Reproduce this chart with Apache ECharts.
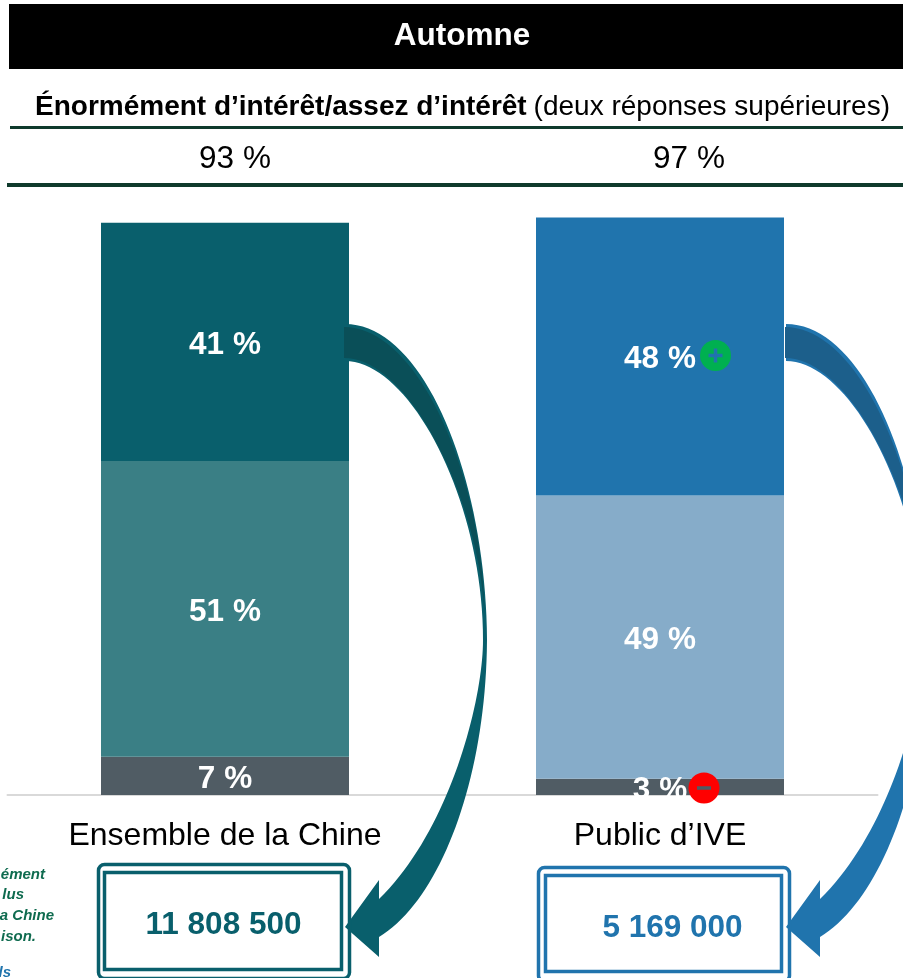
<!DOCTYPE html>
<html>
<head>
<meta charset="utf-8">
<title>Automne</title>
<script src="https://cdn.jsdelivr.net/npm/echarts@6/dist/echarts.min.js"></script>
<style>
  html, body { margin: 0; padding: 0; background: #fff; }
  #main { width: 903px; height: 978px; }
</style>
</head>
<body>
<div id="main"></div>
<script>
const categories = ['Ensemble de la Chine', 'Public d’IVE'];
const lowValues = [6.6, 2.8];
const midValues = [51.2, 49];
const highValues = [41.2, 48.1];
const topTwo = ['93 %', '97 %'];
const totals = ['11 808 500', '5 169 000'];

const lowColors = ['#505c64', '#505c64'];
const midColors = ['#3a7f85', '#86acc9'];
const highColors = ['#095f6c', '#2074ad'];

const font = '"Liberation Sans", Arial, sans-serif';

function seriesOf(name, values, colors) {
  return {
    name: name,
    type: 'bar',
    stack: 'total',
    barWidth: 248,
    data: values.map((v, i) => ({ value: v, itemStyle: { color: colors[i] } })),
    label: {
      show: true,
      position: 'inside',
      offset: [0, 3],
      color: '#fff',
      fontFamily: font,
      fontWeight: 'bold',
      fontSize: 31.5,
      formatter: p => Math.round(p.value) + ' %'
    }
  };
}

function text(x, y, str, size, color, extra) {
  return {
    type: 'text', z: 10, silent: true, x: x, y: y,
    style: Object.assign({
      text: str, fontFamily: font, fontSize: size, fill: color,
      align: 'center', verticalAlign: 'middle'
    }, extra || {})
  };
}

function rect(x, y, w, h, color) {
  return { type: 'rect', z: 10, silent: true, shape: { x: x, y: y, width: w, height: h }, style: { fill: color } };
}

function box(x, y, w, h, r, color) {
  return {
    type: 'rect', z: 10, silent: true,
    shape: { x: x, y: y, width: w, height: h, r: r },
    style: { fill: 'none', stroke: color, lineWidth: 3.5 }
  };
}

// flatten one cubic curve, the graphic component has no svg path type
function curve(p0, p1, p2, p3) {
  const pts = [];
  for (let i = 0; i <= 40; i++) {
    const t = i / 40, u = 1 - t;
    pts.push([
      u * u * u * p0[0] + 3 * u * u * t * p1[0] + 3 * u * t * t * p2[0] + t * t * t * p3[0],
      u * u * u * p0[1] + 3 * u * u * t * p1[1] + 3 * u * t * t * p2[1] + t * t * t * p3[1]
    ]);
  }
  return pts;
}

function poly(points, dx, color) {
  return { type: 'polygon', z: 9, silent: true, x: dx, shape: { points: points }, style: { fill: color } };
}

// curved arrow, dx moves it across to the second bar
function arrow(dx, color, dark) {
  const body = [
    ...curve([345, 324], [425, 324], [486, 480], [487, 640]),
    ...curve([487, 640], [486, 780], [440, 900], [379, 937]),
    [379, 957], [345, 927], [379, 880],
    ...curve([379, 899], [450, 830], [483, 700], [483, 640]),
    ...curve([483, 640], [483, 500], [410, 361], [345, 361])
  ];
  const fold = [
    ...curve([344, 327], [420, 327], [483, 480], [484.5, 615]),
    ...curve([484.5, 615], [479, 500], [410, 358], [344, 358])
  ];
  return [poly(body, dx, color), poly(fold, dx, dark)];
}

function badge(cx, cy, color, barColor, plus) {
  const els = [
    { type: 'circle', z: 11, silent: true, shape: { cx: cx, cy: cy, r: 15.5 }, style: { fill: color } },
    Object.assign(rect(cx - 7, cy - 1.75, 14, 3.5, barColor), { z: 12 })
  ];
  if (plus) els.push(Object.assign(rect(cx - 1.75, cy - 7, 3.5, 14, barColor), { z: 12 }));
  return els;
}

const noteStyle = { fontWeight: 'bold', fontStyle: 'italic', align: 'right' };

const graphics = [
  rect(9, 4, 894, 65, '#000'),
  text(462, 36, 'Automne', 31.5, '#fff', { fontWeight: 'bold' }),
  text(35, 107, 'Énormément d’intérêt/assez d’intérêt', 28, '#000', { fontWeight: 'bold', align: 'left' }),
  text(890, 107, '(deux réponses supérieures)', 28, '#000', { align: 'right' }),
  rect(10, 126, 893, 3, '#0f3a2c'),
  rect(7, 183, 896, 4, '#0f3a2c'),
  text(235, 159, topTwo[0], 31.5, '#000'),
  text(689, 159, topTwo[1], 31.5, '#000'),

  ...arrow(0, '#095f6c', '#0a4f58'),
  ...arrow(441, '#2074ad', '#1c5f8b'),

  ...badge(715.5, 355.5, '#00b050', '#2074ad', true),
  ...badge(704, 788, '#ff0000', '#505c64', false),

  box(98.5, 864.5, 251, 114, 6, '#095f6c'),
  box(104.5, 872.5, 237, 97, 0, '#095f6c'),
  text(223.5, 925, totals[0], 31.5, '#095f6c', { fontWeight: 'bold' }),

  box(538.5, 867.5, 251, 114, 6, '#2074ad'),
  box(545.5, 875.5, 236, 96, 0, '#2074ad'),
  text(672.5, 928, totals[1], 31.5, '#2074ad', { fontWeight: 'bold' }),

  // note at the left edge, cut by the page
  text(45, 875, 'ément', 15, '#0f6b4f', noteStyle),
  text(24, 895, 'lus', 15, '#0f6b4f', noteStyle),
  text(54, 916, 'a Chine', 15, '#0f6b4f', noteStyle),
  text(36, 937, 'ison.', 15, '#0f6b4f', noteStyle),
  text(11, 973, 'ls', 15, '#2074ad', noteStyle)
];

const chart = echarts.init(document.getElementById('main'), null, { renderer: 'canvas' });
chart.setOption({
  animation: false,
  grid: { left: 7.5, top: 217, width: 870, height: 578 },
  xAxis: {
    type: 'category',
    data: categories,
    offset: 1,
    axisTick: { show: false },
    axisLine: { lineStyle: { color: '#d9d9d9', width: 2 } },
    axisLabel: { color: '#000', fontFamily: font, fontSize: 32, margin: 24 }
  },
  yAxis: { type: 'value', min: 0, max: 100, show: false, splitLine: { show: false } },
  series: [
    seriesOf('low', lowValues, lowColors),
    seriesOf('mid', midValues, midColors),
    seriesOf('high', highValues, highColors)
  ],
  graphic: { elements: graphics }
});
</script>
</body>
</html>
